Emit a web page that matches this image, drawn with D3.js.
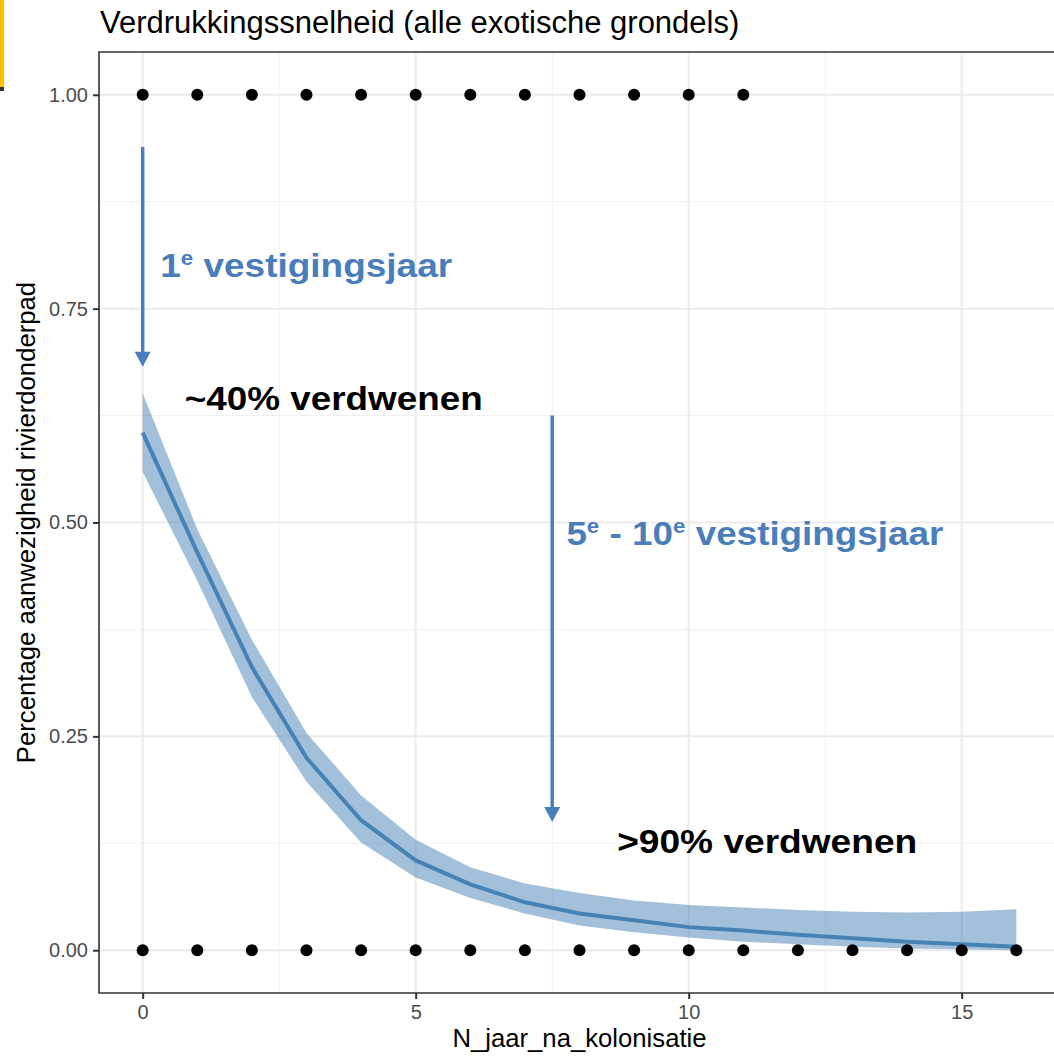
<!DOCTYPE html>
<html>
<head>
<meta charset="utf-8">
<script src="https://cdn.jsdelivr.net/npm/d3@7"></script>
<style>
  body { margin: 0; background: #fff; }
  svg { display: block; font-family: "Liberation Sans", Arial, sans-serif; }
</style>
</head>
<body>
<div id="chart"></div>
<script>
// data
var fitYears  = [0, 1, 2, 3, 4, 5, 6, 7, 8, 9, 10, 11, 12, 13, 14, 15, 16];
var fitValues = [0.605, 0.465, 0.331, 0.225, 0.152, 0.105, 0.077, 0.056, 0.043, 0.035, 0.027, 0.023, 0.018, 0.014, 0.010, 0.007, 0.004];
var fitUpper  = [0.651, 0.492, 0.363, 0.254, 0.181, 0.129, 0.097, 0.078, 0.067, 0.058, 0.053, 0.050, 0.047, 0.045, 0.044, 0.045, 0.048];
var fitLower  = [0.559, 0.432, 0.296, 0.197, 0.126, 0.085, 0.061, 0.043, 0.029, 0.021, 0.015, 0.010, 0.007, 0.004, 0.002, 0.001, 0.000];

var presentYears = [0, 1, 2, 3, 4, 5, 6, 7, 8, 9, 10, 11];
var absentYears  = [0, 1, 2, 3, 4, 5, 6, 7, 8, 9, 10, 11, 12, 13, 14, 15, 16];

var xTicks = [0, 5, 10, 15];
var yTicks = [0, 0.25, 0.5, 0.75, 1];
var xMinor = [2.5, 7.5, 12.5];
var yMinor = [0.125, 0.375, 0.625, 0.875];

var W = 1054, H = 1056;
var panel = {left: 99, right: 1060, top: 52, bottom: 993};

var svg = d3.select("#chart")
  .append("svg")
    .attr("width", W)
    .attr("height", H);

var x = d3.scaleLinear().domain([-0.8, 16.8]).range([panel.left, panel.right]);
var y = d3.scaleLinear().domain([-0.05, 1.05]).range([panel.bottom, panel.top]);

// yellow slide marker top-left
svg.append("rect").attr("x", 0).attr("y", 0).attr("width", 4).attr("height", 87).attr("fill", "#ffc000");
svg.append("rect").attr("x", 0).attr("y", 87).attr("width", 4).attr("height", 4).attr("fill", "#333");

// grid
var grid = svg.append("g");
grid.selectAll("line.xminor").data(xMinor).enter().append("line")
  .attr("x1", d => x(d)).attr("x2", d => x(d))
  .attr("y1", panel.top).attr("y2", panel.bottom)
  .attr("stroke", "#f0f0f0").attr("stroke-width", 1);
grid.selectAll("line.yminor").data(yMinor).enter().append("line")
  .attr("x1", panel.left).attr("x2", panel.right)
  .attr("y1", d => y(d)).attr("y2", d => y(d))
  .attr("stroke", "#f0f0f0").attr("stroke-width", 1);
grid.selectAll("line.xmajor").data(xTicks).enter().append("line")
  .attr("x1", d => x(d)).attr("x2", d => x(d))
  .attr("y1", panel.top).attr("y2", panel.bottom)
  .attr("stroke", "#ebebeb").attr("stroke-width", 2);
grid.selectAll("line.ymajor").data(yTicks).enter().append("line")
  .attr("x1", panel.left).attr("x2", panel.right)
  .attr("y1", d => y(d)).attr("y2", d => y(d))
  .attr("stroke", "#ebebeb").attr("stroke-width", 2);

// confidence band + fitted line
var fit = fitYears.map(function(d, i) {
  return {x: d, v: fitValues[i], lo: fitLower[i], hi: fitUpper[i]};
});

svg.append("path")
  .datum(fit)
  .attr("fill", "#4682b4")
  .attr("fill-opacity", 0.5)
  .attr("d", d3.area().x(d => x(d.x)).y0(d => y(d.lo)).y1(d => y(d.hi)));

svg.append("path")
  .datum(fit)
  .attr("fill", "none")
  .attr("stroke", "#4682b4")
  .attr("stroke-width", 4)
  .attr("d", d3.line().x(d => x(d.x)).y(d => y(d.v)));

// observations
svg.selectAll("circle.present").data(presentYears).enter().append("circle")
  .attr("cx", d => x(d)).attr("cy", y(1)).attr("r", 6).attr("fill", "#000");
svg.selectAll("circle.absent").data(absentYears).enter().append("circle")
  .attr("cx", d => x(d)).attr("cy", y(0)).attr("r", 6).attr("fill", "#000");

// panel border (right side falls outside the picture)
svg.append("path")
  .attr("d", "M" + panel.right + "," + panel.top + "H" + panel.left + "V" + panel.bottom + "H" + panel.right)
  .attr("fill", "none").attr("stroke", "#333").attr("stroke-width", 1.6);

// axes
var xAxis = svg.append("g")
  .attr("transform", "translate(0," + panel.bottom + ")")
  .call(d3.axisBottom(x).tickValues(xTicks).tickSize(6).tickPadding(6).tickFormat(d3.format("d")));
var yAxis = svg.append("g")
  .attr("transform", "translate(" + panel.left + ",0)")
  .call(d3.axisLeft(y).tickValues(yTicks).tickSize(6).tickPadding(5).tickFormat(d3.format(".2f")));
[xAxis, yAxis].forEach(function(a) {
  a.select(".domain").remove();
  a.selectAll(".tick line").attr("stroke", "#333").attr("stroke-width", 2);
  a.selectAll(".tick text").attr("fill", "#4d4d4d").style("font-size", "20px")
    .style("font-family", "'Liberation Sans', Arial, sans-serif");
});

// titles
svg.append("text")
  .attr("x", panel.left + 1).attr("y", 33)
  .style("font-size", "31px").attr("fill", "#000")
  .text("Verdrukkingssnelheid (alle exotische grondels)");

svg.append("text")
  .attr("x", (panel.left + panel.right) / 2).attr("y", 1047)
  .attr("text-anchor", "middle")
  .style("font-size", "25.7px").attr("fill", "#000")
  .text("N_jaar_na_kolonisatie");

svg.append("text")
  .attr("transform", "translate(35," + ((panel.top + panel.bottom) / 2) + ") rotate(-90)")
  .attr("text-anchor", "middle")
  .style("font-size", "25.7px").attr("fill", "#000")
  .text("Percentage aanwezigheid rivierdonderpad");

// annotations (placed in data units)
var blue = "#4a7ebb";
var arrows = [
  {x: 0,   y1: 0.939, y2: 0.682},
  {x: 7.5, y1: 0.625, y2: 0.150}
];
arrows.forEach(function(a) {
  var xp = x(a.x), ya = y(a.y1), yb = y(a.y2);
  svg.append("line")
    .attr("x1", xp).attr("x2", xp).attr("y1", ya).attr("y2", yb - 12)
    .attr("stroke", blue).attr("stroke-width", 3.5);
  svg.append("path")
    .attr("d", "M" + (xp - 8) + "," + (yb - 15) + "L" + (xp + 8) + "," + (yb - 15) + "L" + xp + "," + yb + "Z")
    .attr("fill", blue);
});

var notes = [
  {x: 0.32, y: 0.787, color: blue, width: 292, parts: [["1", false], ["e", true], [" vestigingsjaar", false]]},
  {x: 0.77, y: 0.632, color: "#000", width: 298, parts: [["~40% verdwenen", false]]},
  {x: 7.76, y: 0.474, color: blue, width: 377, parts: [["5", false], ["e", true], [" - 10", false], ["e", true], [" vestigingsjaar", false]]},
  {x: 8.69, y: 0.114, color: "#000", width: 300, parts: [[">90% verdwenen", false]]}
];
notes.forEach(function(n) {
  var t = svg.append("text")
    .attr("x", x(n.x)).attr("y", y(n.y))
    .attr("fill", n.color)
    .style("font-size", "33px").style("font-weight", "bold")
    .attr("textLength", n.width).attr("lengthAdjust", "spacingAndGlyphs");
  n.parts.forEach(function(p, i) {
    var s = t.append("tspan").text(p[0]);
    if (p[1]) s.style("font-size", "20px").attr("dy", -12);
    else if (i > 0 && n.parts[i - 1][1]) s.attr("dy", 12);
  });
});
</script>
</body>
</html>
